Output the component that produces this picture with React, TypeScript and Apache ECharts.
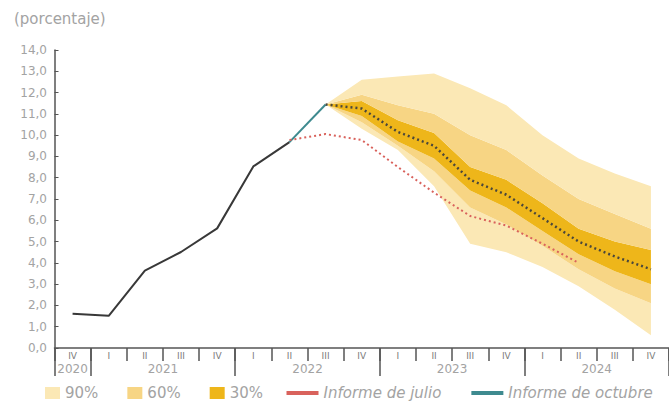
import React, { useEffect, useRef } from "react";
import * as echarts from "echarts";

// Quarter labels (2020 IV .. 2024 IV)
const quarters = ["IV", "I", "II", "III", "IV", "I", "II", "III", "IV", "I", "II", "III", "IV", "I", "II", "III", "IV"];
const years = ["2020", "2021", "2022", "2023", "2024"];

// Observed annual inflation (2020 IV .. 2022 III)
const observed = [1.61, 1.51, 3.63, 4.51, 5.62, 8.53, 9.67, 11.44];

// October report central projection (2022 III .. 2024 IV)
const octubreCentral = [11.44, 11.25, 10.15, 9.5, 7.9, 7.2, 6.1, 5.0, 4.3, 3.7];
// July report projection (2022 II .. 2024 II)
const julio = [9.77, 10.05, 9.77, 8.5, 7.3, 6.2, 5.75, 4.9, 4.0];

// Fan chart bands (2022 III .. 2024 IV)
const lo90 = [11.44, 10.3, 9.3, 7.6, 4.9, 4.5, 3.8, 2.9, 1.8, 0.6];
const lo60 = [11.44, 10.6, 9.5, 8.3, 6.6, 5.8, 4.8, 3.7, 2.8, 2.1];
const lo30 = [11.44, 10.9, 9.7, 8.9, 7.4, 6.6, 5.5, 4.4, 3.6, 3.0];
const hi30 = [11.44, 11.6, 10.7, 10.1, 8.5, 7.9, 6.8, 5.6, 5.0, 4.6];
const hi60 = [11.44, 11.9, 11.4, 11.0, 10.0, 9.3, 8.1, 7.0, 6.3, 5.6];
const hi90 = [11.44, 12.6, 12.75, 12.9, 12.2, 11.4, 10.0, 8.9, 8.2, 7.6];

const C90 = "#FBE8B5";
const C60 = "#F7D584";
const C30 = "#EEB61A";
const RED = "#D9625C";
const TEAL = "#3E8A8F";
const DARK = "#383838";
const FONT = "DejaVu Sans";
const TXT = "#a3a3a3";

const FAN_START = 7;
const N = quarters.length;

function pad(arr: number[], start: number): (number | string)[] {
  const out: (number | string)[] = new Array(N).fill("-");
  arr.forEach((v, i) => (out[start + i] = v));
  return out;
}
function diff(a: number[], b: number[]) {
  return a.map((v, i) => +(v - b[i]).toFixed(3));
}

export default function App() {
  const ref = useRef<HTMLDivElement>(null);
  useEffect(() => {
    if (!ref.current) return;
    const chart = echarts.init(ref.current, null, { renderer: "svg" });

    // year boundaries from quarter list
    const bounds: number[] = [0];
    quarters.forEach((q, i) => {
      if (q === "I") bounds.push(i);
    });
    bounds.push(N);
    const centers = bounds.slice(0, -1).map((b, i) => (b + bounds[i + 1]) / 2);

    const band = (name: string, data: number[], color: string) => ({
      name,
      type: "line",
      stack: "fan",
      data: pad(data, FAN_START),
      symbol: "none",
      color,
      itemStyle: { color },
      lineStyle: { opacity: 0, width: 0 },
      areaStyle: { color, opacity: 1 },
      silent: true,
      z: 1,
    });

    const option: any = {
      animation: false,
      textStyle: { fontFamily: FONT },
      grid: { left: 54.5, right: -9.3, top: 50, bottom: 59, containLabel: false },
      graphic: [
        {
          type: "text",
          left: 14,
          top: 11,
          style: { text: "(porcentaje)", fill: TXT, font: `15px "${FONT}"` },
        },
      ],
      xAxis: [
        {
          type: "category",
          data: quarters,
          boundaryGap: true,
          position: "bottom",
          axisLine: { show: true, lineStyle: { color: "#555", width: 1.5 } },
          axisTick: { show: true, length: 13, alignWithLabel: false, interval: 0, lineStyle: { color: "#555", width: 1.5 } },
          axisLabel: { interval: 0, color: "#7a7a7a", fontSize: 9, margin: 3, fontFamily: FONT },
          splitLine: { show: false },
        },
        {
          type: "value",
          min: 0,
          max: N,
          position: "bottom",
          axisLine: { show: false },
          splitLine: { show: false },
          axisTick: {
            show: true,
            length: 28,
            customValues: bounds,
            lineStyle: { color: "#555", width: 1.5 },
          },
          axisLabel: {
            customValues: centers,
            formatter: (v: number) => {
              const idx = centers.findIndex((c) => Math.abs(c - v) < 1e-6);
              return idx >= 0 ? years[idx] : "";
            },
            color: TXT,
            fontSize: 12,
            margin: 15,
            fontFamily: FONT,
          },
        },
      ],
      yAxis: {
        type: "value",
        min: 0,
        max: 14,
        interval: 1,
        axisLine: { show: true, lineStyle: { color: "#555", width: 1.5 } },
        axisTick: { show: true, inside: true, length: 4, lineStyle: { color: "#555" } },
        axisLabel: {
          formatter: (v: number) => v.toFixed(1).replace(".", ","),
          color: TXT,
          fontSize: 12,
          margin: 7.5,
          fontFamily: FONT,
        },
        splitLine: { show: false },
      },
      legend: [
        {
          data: ["90%", "60%", "30%"],
          left: 45,
          top: 385.5,
          padding: 0,
          icon: "rect",
          itemWidth: 15,
          itemHeight: 12,
          itemGap: 29,
          selectedMode: false,
          textStyle: { color: TXT, fontSize: 15, fontFamily: FONT },
        },
        {
          data: ["Informe de julio", "Informe de octubre"],
          left: 286.5,
          top: 385.5,
          padding: 0,
          icon: "path://M0,0H25V3H0Z",
          itemWidth: 32,
          itemHeight: 12,
          itemGap: 30,
          selectedMode: false,
          itemStyle: { borderWidth: 0 },
          textStyle: { color: TXT, fontSize: 15, fontStyle: "italic", fontFamily: FONT },
        },
      ],
      series: [
        {
          name: "base",
          type: "line",
          stack: "fan",
          data: pad(lo90, FAN_START),
          symbol: "none",
          lineStyle: { opacity: 0, width: 0 },
          silent: true,
          z: 1,
        },
        band("90%", diff(lo60, lo90), C90),
        band("60%", diff(lo30, lo60), C60),
        band("30%", diff(hi30, lo30), C30),
        band("60%", diff(hi60, hi30), C60),
        band("90%", diff(hi90, hi60), C90),
        {
          name: "Histórico",
          type: "line",
          data: pad(observed.slice(0, observed.length - 1), 0),
          symbol: "none",
          color: DARK,
          lineStyle: { color: DARK, width: 2 },
          z: 3,
        },
        {
          name: "Informe de octubre",
          type: "line",
          data: pad(observed.slice(observed.length - 2), observed.length - 2),
          symbol: "none",
          color: TEAL,
          itemStyle: { color: TEAL },
          lineStyle: { color: TEAL, width: 2 },
          z: 3,
        },
        {
          name: "Proyección octubre",
          type: "line",
          data: pad(octubreCentral, FAN_START),
          symbol: "none",
          color: "#4a473c",
          lineStyle: { color: "#4a473c", width: 2.5, type: [2, 3] },
          z: 4,
        },
        {
          name: "Informe de julio",
          type: "line",
          data: pad(julio, 6),
          symbol: "none",
          color: RED,
          itemStyle: { color: RED },
          lineStyle: { color: RED, width: 2, type: [2, 3] },
          z: 4,
        },
      ],
    };
    chart.setOption(option);
    return () => chart.dispose();
  }, []);

  return (
    <div
      ref={ref}
      style={{ position: "fixed", left: 0, top: 0, width: 669, height: 407, background: "#fff" }}
    />
  );
}
